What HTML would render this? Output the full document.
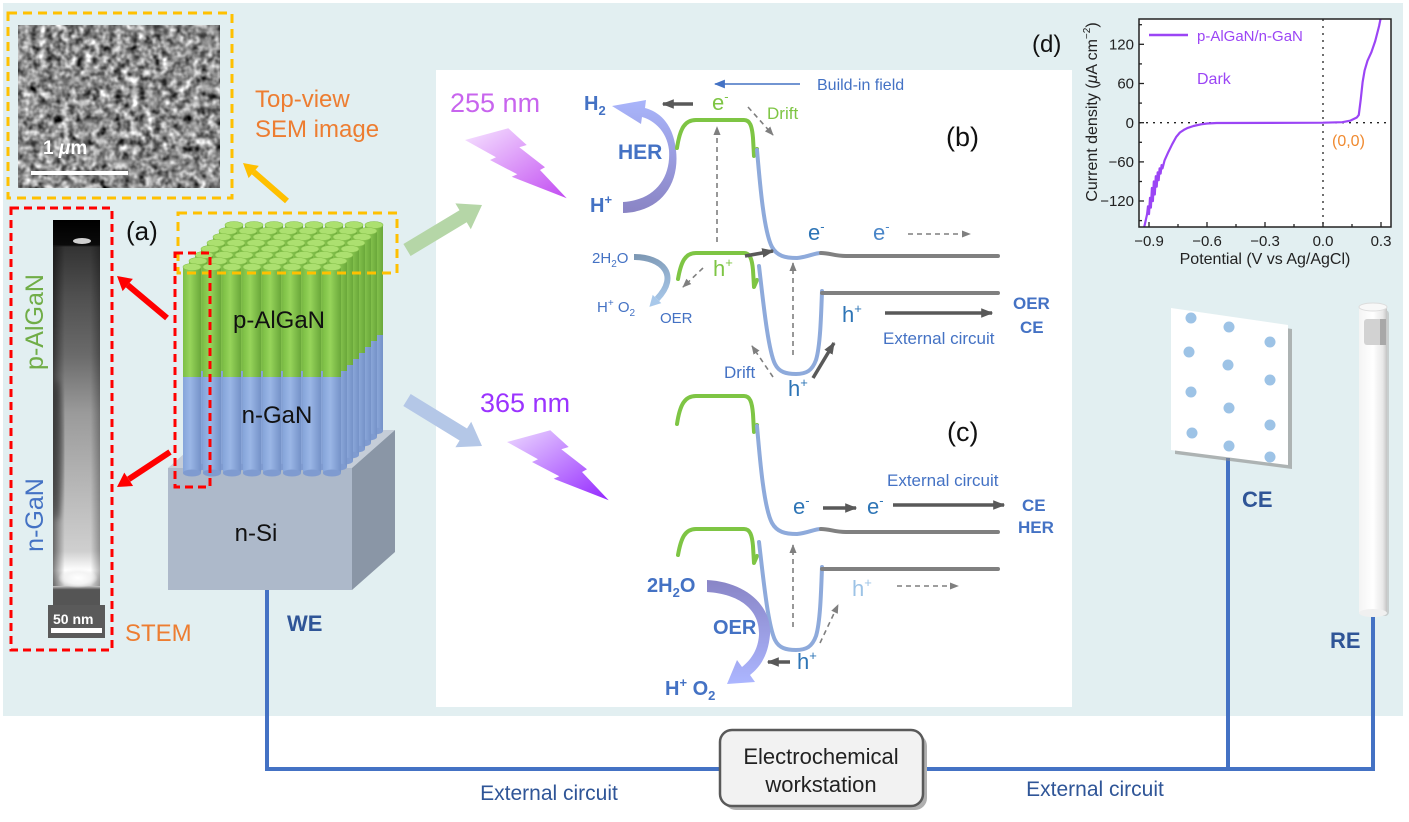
<!DOCTYPE html>
<html><head><meta charset="utf-8"><style>
html,body{margin:0;padding:0;background:#fff;overflow:hidden}
svg{display:block}
text{font-family:"Liberation Sans",Arial,sans-serif}
</style></head><body>
<svg width="1409" height="822" viewBox="0 0 1409 822" xmlns="http://www.w3.org/2000/svg" xmlns:xlink="http://www.w3.org/1999/xlink">
<defs>
<filter id="sem" x="0" y="0" width="1" height="1" color-interpolation-filters="sRGB">
<feTurbulence type="fractalNoise" baseFrequency="0.13" numOctaves="2" seed="7" result="t"/>
<feColorMatrix in="t" type="matrix" values="0.5 0.5 0 0 0  0.5 0.5 0 0 0  0.5 0.5 0 0 0  0 0 0 0 1"/>
<feComponentTransfer><feFuncR type="linear" slope="1.9" intercept="-0.4"/><feFuncG type="linear" slope="1.9" intercept="-0.4"/><feFuncB type="linear" slope="1.9" intercept="-0.4"/></feComponentTransfer>
</filter>
<filter id="blur2"><feGaussianBlur stdDeviation="3"/></filter>
<linearGradient id="stem" x1="0" y1="0" x2="0" y2="1">
<stop offset="0" stop-color="#000"/><stop offset="0.065" stop-color="#0a0a0a"/><stop offset="0.07" stop-color="#333"/>
<stop offset="0.2" stop-color="#505050"/><stop offset="0.35" stop-color="#6a6a6a"/><stop offset="0.5" stop-color="#9a9a9a"/>
<stop offset="0.7" stop-color="#b8b8b8"/><stop offset="0.86" stop-color="#cfcfcf"/><stop offset="0.91" stop-color="#fff"/>
<stop offset="0.95" stop-color="#d0d0d0"/><stop offset="0.96" stop-color="#555"/><stop offset="1" stop-color="#555"/>
</linearGradient>
<linearGradient id="stemh" x1="0" y1="0" x2="1" y2="0">
<stop offset="0" stop-color="#000" stop-opacity="0.5"/><stop offset="0.25" stop-color="#000" stop-opacity="0"/>
<stop offset="0.8" stop-color="#000" stop-opacity="0"/><stop offset="1" stop-color="#000" stop-opacity="0.3"/>
</linearGradient>
<linearGradient id="gg" x1="0" y1="0" x2="1" y2="0"><stop offset="0" stop-color="#7cbf45"/><stop offset="0.4" stop-color="#96d45a"/><stop offset="1" stop-color="#6aa83a"/></linearGradient>
<linearGradient id="bg" x1="0" y1="0" x2="1" y2="0"><stop offset="0" stop-color="#86a5da"/><stop offset="0.4" stop-color="#9ab6e6"/><stop offset="1" stop-color="#7592c8"/></linearGradient>
<g id="w"><rect x="0" y="0" width="18" height="110" fill="url(#gg)"/><rect x="0" y="110" width="18" height="96" fill="url(#bg)"/><ellipse cx="9" cy="206" rx="9" ry="3.5" fill="#7f9bd0"/><ellipse cx="9" cy="0" rx="9" ry="3.5" fill="#ace070" stroke="#86c04c" stroke-width="0.6"/></g>
<linearGradient id="bolt1" x1="0" y1="0" x2="1" y2="1"><stop offset="0" stop-color="#f6e4ff"/><stop offset="1" stop-color="#c24cf2"/></linearGradient>
<linearGradient id="bolt2" x1="0" y1="0" x2="1" y2="1"><stop offset="0" stop-color="#ecd8ff"/><stop offset="1" stop-color="#9428ff"/></linearGradient>
<linearGradient id="her" x1="0" y1="0" x2="0" y2="1"><stop offset="0" stop-color="#a9b5fb"/><stop offset="1" stop-color="#8a84c4"/></linearGradient>
<linearGradient id="oer" x1="0" y1="0" x2="0" y2="1"><stop offset="0" stop-color="#8985c6"/><stop offset="1" stop-color="#acb6ff"/></linearGradient>
<linearGradient id="oerb" gradientUnits="userSpaceOnUse" x1="634" y1="257" x2="650" y2="307"><stop offset="0" stop-color="#7d98b4"/><stop offset="1" stop-color="#a8c8ea"/></linearGradient>
<linearGradient id="re" x1="0" y1="0" x2="1" y2="0"><stop offset="0" stop-color="#f4f4f4"/><stop offset="0.5" stop-color="#fff"/><stop offset="0.85" stop-color="#e8e8e8"/><stop offset="1" stop-color="#c4c4c4"/></linearGradient>
<radialGradient id="spot" cx="0.5" cy="0.5" r="0.5"><stop offset="0" stop-color="#fff"/><stop offset="0.6" stop-color="#f4f4f4"/><stop offset="1" stop-color="#f4f4f4" stop-opacity="0"/></radialGradient>
<marker id="mk" viewBox="0 0 10 10" refX="9" refY="5" markerWidth="12" markerHeight="12" markerUnits="userSpaceOnUse" orient="auto"><path d="M0,1 L10,5 L0,9 z" fill="#595959"/></marker>
<marker id="md" viewBox="0 0 10 10" refX="9" refY="5" markerWidth="9" markerHeight="9" markerUnits="userSpaceOnUse" orient="auto"><path d="M0,1 L10,5 L0,9 z" fill="#7f7f7f"/></marker>
<marker id="mb" viewBox="0 0 10 10" refX="9" refY="5" markerWidth="11" markerHeight="11" markerUnits="userSpaceOnUse" orient="auto"><path d="M0,1 L10,5 L0,9 z" fill="#4472c4"/></marker>
<clipPath id="plot"><rect x="1139" y="19" width="252" height="208"/></clipPath>
<clipPath id="stemclip"><rect x="53" y="220" width="47" height="385"/></clipPath>
</defs>

<rect width="1409" height="822" fill="#fff"/>
<rect x="3" y="3" width="1400" height="713" fill="#e2eff1"/>
<rect x="436" y="70" width="636" height="637" fill="#fff"/>

<!-- SEM -->
<rect x="18" y="25" width="202" height="163" fill="#808080" filter="url(#sem)"/>
<rect x="31" y="171" width="97" height="4" fill="#fff"/>
<text x="43" y="154" font-size="19" font-weight="bold" fill="#fff">1 <tspan font-style="italic">μ</tspan>m</text>
<rect x="8" y="13" width="224" height="185" fill="none" stroke="#ffc000" stroke-width="3" stroke-dasharray="9,6"/>
<text x="255" y="107" font-size="24" fill="#ed7d31">Top-view</text>
<text x="255" y="137" font-size="24" fill="#ed7d31">SEM image</text>
<line x1="287" y1="201" x2="253.7" y2="172" stroke="#ffc000" stroke-width="6"/>
<polygon points="243,163 258.8,165.9 248.6,178.1" fill="#ffc000"/>

<!-- STEM -->
<rect x="53" y="220" width="47" height="385" fill="url(#stem)"/>
<g clip-path="url(#stemclip)">
<rect x="53" y="246" width="47" height="340" fill="url(#stemh)"/>
<ellipse cx="57" cy="450" rx="6" ry="70" fill="#000" opacity="0.35" filter="url(#blur2)"/>
<ellipse cx="78" cy="578" rx="20" ry="10" fill="url(#spot)"/>
</g>
<ellipse cx="82" cy="241" rx="9" ry="3" fill="#cfcfcf"/>
<rect x="48" y="605" width="57" height="33" fill="#5a5a5a"/>
<text x="53" y="624" font-size="14" font-weight="bold" fill="#fff">50 nm</text>
<rect x="51" y="628" width="51" height="5" fill="#fff"/>
<rect x="11" y="208" width="101" height="442" fill="none" stroke="#ff0000" stroke-width="3" stroke-dasharray="8,5"/>
<text transform="translate(43,322) rotate(-90)" text-anchor="middle" font-size="25" fill="#70ad47">p-AlGaN</text>
<text transform="translate(43,515) rotate(-90)" text-anchor="middle" font-size="25" fill="#4472c4">n-GaN</text>
<text x="125" y="641" font-size="24" fill="#ed7d31">STEM</text>
<text x="126" y="240" font-size="26" fill="#111">(a)</text>
<line x1="167" y1="318" x2="127.7" y2="285" stroke="#ff0000" stroke-width="6"/>
<polygon points="117,276 132.9,278.9 122.6,291.1" fill="#ff0000"/>
<line x1="170" y1="452" x2="128.7" y2="479.3" stroke="#ff0000" stroke-width="6"/>
<polygon points="117,487 124.3,472.6 133.1,486" fill="#ff0000"/>

<!-- substrate -->
<polygon points="168,468 352,468 395,430 211,430" fill="#c5cdd8"/>
<polygon points="352,468 395,430 395,552 352,590" fill="#8a96a6"/>
<rect x="168" y="468" width="184" height="122" fill="#adb9ca"/>
<text x="256" y="541" font-size="24" fill="#111" text-anchor="middle">n-Si</text>

<!-- nanowires -->
<g>
<use href="#w" x="225" y="225"/><use href="#w" x="245" y="225"/><use href="#w" x="265" y="225"/><use href="#w" x="285" y="225"/><use href="#w" x="305" y="225"/><use href="#w" x="325" y="225"/><use href="#w" x="345" y="225"/><use href="#w" x="365" y="225"/>
<use href="#w" x="219" y="231"/><use href="#w" x="239" y="231"/><use href="#w" x="259" y="231"/><use href="#w" x="279" y="231"/><use href="#w" x="299" y="231"/><use href="#w" x="319" y="231"/><use href="#w" x="339" y="231"/><use href="#w" x="359" y="231"/>
<use href="#w" x="213" y="237"/><use href="#w" x="233" y="237"/><use href="#w" x="253" y="237"/><use href="#w" x="273" y="237"/><use href="#w" x="293" y="237"/><use href="#w" x="313" y="237"/><use href="#w" x="333" y="237"/><use href="#w" x="353" y="237"/>
<use href="#w" x="207" y="243"/><use href="#w" x="227" y="243"/><use href="#w" x="247" y="243"/><use href="#w" x="267" y="243"/><use href="#w" x="287" y="243"/><use href="#w" x="307" y="243"/><use href="#w" x="327" y="243"/><use href="#w" x="347" y="243"/>
<use href="#w" x="201" y="249"/><use href="#w" x="221" y="249"/><use href="#w" x="241" y="249"/><use href="#w" x="261" y="249"/><use href="#w" x="281" y="249"/><use href="#w" x="301" y="249"/><use href="#w" x="321" y="249"/><use href="#w" x="341" y="249"/>
<use href="#w" x="195" y="255"/><use href="#w" x="215" y="255"/><use href="#w" x="235" y="255"/><use href="#w" x="255" y="255"/><use href="#w" x="275" y="255"/><use href="#w" x="295" y="255"/><use href="#w" x="315" y="255"/><use href="#w" x="335" y="255"/>
<use href="#w" x="189" y="261"/><use href="#w" x="209" y="261"/><use href="#w" x="229" y="261"/><use href="#w" x="249" y="261"/><use href="#w" x="269" y="261"/><use href="#w" x="289" y="261"/><use href="#w" x="309" y="261"/><use href="#w" x="329" y="261"/>
<use href="#w" x="183" y="267"/><use href="#w" x="203" y="267"/><use href="#w" x="223" y="267"/><use href="#w" x="243" y="267"/><use href="#w" x="263" y="267"/><use href="#w" x="283" y="267"/><use href="#w" x="303" y="267"/><use href="#w" x="323" y="267"/>
</g>
<text x="279" y="328" font-size="24" fill="#111" text-anchor="middle">p-AlGaN</text>
<text x="277" y="423" font-size="24" fill="#111" text-anchor="middle">n-GaN</text>
<rect x="178" y="213" width="219" height="60" fill="none" stroke="#ffc000" stroke-width="3" stroke-dasharray="9,6"/>
<rect x="175" y="253" width="35" height="234" fill="none" stroke="#ff0000" stroke-width="3" stroke-dasharray="8,5"/>

<!-- big arrows -->
<polygon points="410.6,256 466.7,222.3 470.8,229.2 482,205 455.4,203.4 459.5,210.3 403.4,244" fill="#b5d6a7"/>
<polygon points="403.3,406 459.6,440.5 455.4,447.3 482,446 471.2,421.7 467,428.5 410.7,394" fill="#b4c7e7"/>

<!-- circuit -->
<path d="M267,590 V769 H1373 V616" fill="none" stroke="#4472c4" stroke-width="4"/>
<path d="M1228,458 V769" fill="none" stroke="#4472c4" stroke-width="4"/>
<text x="287" y="631" font-size="22" font-weight="bold" fill="#2f5597">WE</text>
<rect x="724" y="734" width="203" height="76" rx="12" fill="#b0b0b0"/>
<rect x="720" y="730" width="203" height="76" rx="12" fill="#f2f2f2" stroke="#595959" stroke-width="2.5"/>
<text x="821" y="764" font-size="22" fill="#222" text-anchor="middle">Electrochemical</text>
<text x="821" y="792" font-size="22" fill="#222" text-anchor="middle">workstation</text>
<text x="549" y="800" font-size="21" fill="#2f5597" text-anchor="middle">External circuit</text>
<text x="1095" y="796" font-size="21" fill="#2f5597" text-anchor="middle">External circuit</text>

<!-- CE plate -->
<polygon points="1175,312 1292,329 1292,469 1175,454" fill="#8a8a8a" opacity="0.6"/>
<polygon points="1171,308 1288,325 1288,465 1171,450" fill="#fff"/>
<g fill="#9dc3e6">
<circle cx="1191" cy="318" r="5.5"/><circle cx="1229" cy="327" r="5.5"/><circle cx="1270" cy="342" r="5.5"/>
<circle cx="1189" cy="352" r="5.5"/><circle cx="1228" cy="365" r="5.5"/><circle cx="1270" cy="380" r="5.5"/>
<circle cx="1191" cy="392" r="5.5"/><circle cx="1229" cy="408" r="5.5"/><circle cx="1270" cy="425" r="5.5"/>
<circle cx="1192" cy="433" r="5.5"/><circle cx="1229" cy="446" r="5.5"/><circle cx="1270" cy="457" r="5.5"/>
</g>
<text x="1242" y="507" font-size="22" font-weight="bold" fill="#2f5597">CE</text>
<!-- RE tube -->
<rect x="1361" y="310" width="28" height="306" rx="4" fill="#b8b8b8" opacity="0.6"/>
<rect x="1359" y="307" width="28" height="306" fill="url(#re)"/>
<ellipse cx="1373" cy="613" rx="14" ry="4" fill="#f0f0f0"/>
<ellipse cx="1373" cy="307" rx="14" ry="4" fill="#f8f8f8" stroke="#dcdcdc" stroke-width="1"/>
<rect x="1364" y="319" width="22" height="26" rx="3" fill="#d2d2d2"/>
<rect x="1380" y="319" width="6" height="26" fill="#a8a8a8"/>
<text x="1330" y="648" font-size="22" font-weight="bold" fill="#2f5597">RE</text>

<!-- lightning -->
<polygon points="465,140 508.3,128.3 526.7,145 519.3,147.3 545,167.3 540,170 566.7,198.3 511.7,176.7 517.3,174.3 490,160 496,157.3" fill="url(#bolt1)"/>
<polygon transform="translate(42,302)" points="465,140 508.3,128.3 526.7,145 519.3,147.3 545,167.3 540,170 566.7,198.3 511.7,176.7 517.3,174.3 490,160 496,157.3" fill="url(#bolt2)"/>
<text x="450" y="112" font-size="27" fill="#c865ee">255 nm</text>
<text x="480" y="412" font-size="27" fill="#9b33ff">365 nm</text>

<!-- (b) -->
<path d="M623,213 C660,212 680,185 676,150 C673,124 660,112 645,108 L646,100 L612,106 L641,124 L642,117 C656,121 667,133 669,150 C671,178 655,200 623,202 Z" fill="url(#her)"/>
<text x="584" y="110" font-size="20" font-weight="bold" fill="#4472c4">H<tspan font-size="13" dy="5">2</tspan></text>
<text x="618" y="159" font-size="21" font-weight="bold" fill="#4472c4">HER</text>
<text x="590" y="212" font-size="20" font-weight="bold" fill="#4472c4">H<tspan font-size="13" dy="-8">+</tspan></text>
<line x1="693" y1="104" x2="663" y2="104" stroke="#595959" stroke-width="3.5" marker-end="url(#mk)"/>
<text x="712" y="110" font-size="22" fill="#7ec544">e<tspan font-size="13" dy="-9">-</tspan></text>
<line x1="800" y1="84" x2="715" y2="84" stroke="#4472c4" stroke-width="1.5" marker-end="url(#mb)"/>
<text x="817" y="90" font-size="16" fill="#4472c4">Build-in field</text>
<text x="767" y="119" font-size="17" fill="#7ec544">Drift</text>
<text x="946" y="146" font-size="27" fill="#111">(b)</text>

<g fill="none" stroke-width="4" stroke-linecap="round" stroke-linejoin="round">
<path d="M677,148 C680,128 685,120 696,120 L744,120 C750,120 752,126 753,138 L754,156 L757,149" stroke="#7ec544"/>
<path d="M757,150 C760,185 764,232 772,247 C777,256 785,258 797,258 C808,257 814,253 821,253" stroke="#8eaadb"/>
<path d="M821,253 C830,253 834,256 846,256 L998,256" stroke="#808080"/>
<path d="M678,279 C681,262 685,253 696,253 L744,253 C750,253 752,259 753,270 L754,287 L757,280" stroke="#7ec544"/>
<path d="M759,266 C763,300 768,350 775,364 C779,372 786,374 796,374 C806,374 812,371 816,360 C820,347 821,320 822,291" stroke="#8eaadb"/>
<path d="M822,293 L998,293" stroke="#808080"/>
<g transform="translate(0,276)">
<path d="M677,148 C680,128 685,120 696,120 L744,120 C750,120 752,126 753,138 L754,156 L757,149" stroke="#7ec544"/>
<path d="M757,150 C760,185 764,232 772,247 C777,256 785,258 797,258 C808,257 814,253 821,253" stroke="#8eaadb"/>
<path d="M821,253 C830,253 834,256 846,256 L998,256" stroke="#808080"/>
<path d="M678,279 C681,262 685,253 696,253 L744,253 C750,253 752,259 753,270 L754,287 L757,280" stroke="#7ec544"/>
<path d="M759,266 C763,300 768,350 775,364 C779,372 786,374 796,374 C806,374 812,371 816,360 C820,347 821,320 822,291" stroke="#8eaadb"/>
<path d="M822,293 L998,293" stroke="#808080"/>
</g>
</g>

<!-- dashed arrows -->
<g stroke="#7f7f7f" stroke-width="1.6" stroke-dasharray="5,4" fill="none">
<line x1="717" y1="242" x2="717" y2="127" marker-end="url(#md)"/>
<line x1="748" y1="107" x2="773" y2="135" marker-end="url(#md)"/>
<line x1="908" y1="234" x2="970" y2="234" marker-end="url(#md)"/>
<line x1="703" y1="268" x2="683" y2="287" marker-end="url(#md)"/>
<line x1="793" y1="355" x2="793" y2="263" marker-end="url(#md)"/>
<line x1="773" y1="377" x2="752" y2="346" marker-end="url(#md)"/>
<line x1="793" y1="627" x2="793" y2="545" marker-end="url(#md)"/>
<line x1="820" y1="643" x2="838" y2="605" marker-end="url(#md)"/>
<line x1="897" y1="586" x2="958" y2="586" marker-end="url(#md)"/>
</g>
<!-- solid arrows -->
<g stroke="#595959" stroke-width="3.5" fill="none">
<line x1="745" y1="256" x2="773" y2="251" marker-end="url(#mk)"/>
<line x1="885" y1="313" x2="992" y2="313" marker-end="url(#mk)"/>
<line x1="813" y1="378" x2="834" y2="343" marker-end="url(#mk)"/>
<line x1="823" y1="508" x2="856" y2="508" marker-end="url(#mk)"/>
<line x1="893" y1="505" x2="1004" y2="505" marker-end="url(#mk)"/>
<line x1="790" y1="662" x2="768" y2="662" marker-end="url(#mk)"/>
</g>

<!-- small OER arrow (b) -->
<path d="M634,257 C662,257 680,275 657,299" fill="none" stroke="url(#oerb)" stroke-width="6"/>
<polygon points="661.3,303.1 652.7,294.9 649.4,306.9" fill="#a8c8ea"/>
<text x="592" y="263" font-size="15" fill="#4472c4">2H<tspan font-size="10" dy="4">2</tspan><tspan dy="-4">O</tspan></text>
<text x="597" y="312" font-size="15" fill="#4472c4">H<tspan font-size="10" dy="-6">+</tspan><tspan dy="6"> O</tspan><tspan font-size="10" dy="4">2</tspan></text>
<text x="660" y="323" font-size="15" fill="#4472c4">OER</text>
<text x="713" y="276" font-size="22" fill="#7ec544">h<tspan font-size="13" dy="-9">+</tspan></text>
<text x="808" y="240" font-size="22" fill="#2e75b6">e<tspan font-size="13" dy="-9">-</tspan></text>
<text x="873" y="240" font-size="22" fill="#4a86c8">e<tspan font-size="13" dy="-9">-</tspan></text>
<text x="842" y="322" font-size="22" fill="#2e75b6">h<tspan font-size="13" dy="-9">+</tspan></text>
<text x="883" y="344" font-size="17" fill="#4472c4">External circuit</text>
<text x="1013" y="309" font-size="17" font-weight="bold" fill="#4472c4">OER</text>
<text x="1020" y="333" font-size="17" font-weight="bold" fill="#4472c4">CE</text>
<text x="724" y="378" font-size="17" fill="#4472c4">Drift</text>
<text x="788" y="396" font-size="22" fill="#2e75b6">h<tspan font-size="13" dy="-9">+</tspan></text>

<!-- (c) -->
<text x="947" y="441" font-size="27" fill="#111">(c)</text>
<text x="887" y="486" font-size="17" fill="#4472c4">External circuit</text>
<text x="793" y="514" font-size="22" fill="#2e75b6">e<tspan font-size="13" dy="-9">-</tspan></text>
<text x="867" y="514" font-size="22" fill="#2e75b6">e<tspan font-size="13" dy="-9">-</tspan></text>
<text x="1022" y="511" font-size="17" font-weight="bold" fill="#4472c4">CE</text>
<text x="1018" y="533" font-size="17" font-weight="bold" fill="#4472c4">HER</text>
<text x="852" y="596" font-size="22" fill="#9dc3e6">h<tspan font-size="13" dy="-9">+</tspan></text>
<text x="797" y="669" font-size="22" fill="#2e75b6">h<tspan font-size="13" dy="-9">+</tspan></text>
<path d="M707,580 C745,582 772,605 770,635 C768,655 761,666 750,675 L755,682 L727,684 L737,660 L742,667 C752,659 758,649 759,635 C760,610 740,594 707,592 Z" fill="url(#oer)"/>
<text x="647" y="592" font-size="20" font-weight="bold" fill="#4472c4">2H<tspan font-size="13" dy="5">2</tspan><tspan dy="-5">O</tspan></text>
<text x="713" y="634" font-size="20" font-weight="bold" fill="#4472c4">OER</text>
<text x="665" y="695" font-size="20" font-weight="bold" fill="#4472c4">H<tspan font-size="13" dy="-8">+</tspan><tspan dy="8"> O</tspan><tspan font-size="13" dy="5">2</tspan></text>

<!-- (d) chart -->
<text x="1032" y="52" font-size="24" fill="#111">(d)</text>
<rect x="1139" y="19" width="252" height="208" fill="#fff"/>
<g stroke="#222" stroke-width="1.3" stroke-dasharray="2,5">
<line x1="1139" y1="122.7" x2="1391" y2="122.7"/>
<line x1="1323" y1="19" x2="1323" y2="227"/>
</g>
<path clip-path="url(#plot)" fill="none" stroke="#9b45f5" stroke-width="2.2" stroke-linejoin="round" d="M1144.2,227.2 L1147.1,214.1 L1148,206.3 L1149,214.1 L1150,197.8 L1150.9,207.6 L1151.9,188 L1152.9,201.1 L1153.8,181.5 L1154.8,194.5 L1155.8,176.2 L1156.7,186.7 L1157.7,172.3 L1158.7,180.2 L1159.6,168.4 L1160.6,173.6 L1161.6,165.1 L1162.5,168.4 L1164.5,160.6 L1168.3,152.1 L1172.2,144.2 L1176.1,137.1 L1179.9,132.5 L1183.8,129.9 L1187.7,127.9 L1193.5,126 L1201.2,124.3 L1207,123.5 L1216.7,123 L1323,122.7 L1342.3,122.2 L1350.1,120.7 L1356.8,117.5 L1358.8,114.9 L1360.7,99.8 L1362.6,82.2 L1364.6,70.5 L1367.5,60.7 L1371.4,52.2 L1375.2,41.1 L1379.1,26 L1382,11.7"/>
<rect x="1139" y="19" width="252" height="208" fill="none" stroke="#222" stroke-width="1.5"/>
<g stroke="#222" stroke-width="1.3">
<line x1="1139" y1="44.3" x2="1144" y2="44.3"/><line x1="1139" y1="83.5" x2="1144" y2="83.5"/><line x1="1139" y1="122.7" x2="1144" y2="122.7"/><line x1="1139" y1="161.9" x2="1144" y2="161.9"/><line x1="1139" y1="201" x2="1144" y2="201"/>
<line x1="1139" y1="24.7" x2="1142" y2="24.7"/><line x1="1139" y1="63.9" x2="1142" y2="63.9"/><line x1="1139" y1="103.1" x2="1142" y2="103.1"/><line x1="1139" y1="142.3" x2="1142" y2="142.3"/><line x1="1139" y1="181.5" x2="1142" y2="181.5"/><line x1="1139" y1="220.6" x2="1142" y2="220.6"/>
<line x1="1149" y1="227" x2="1149" y2="222"/><line x1="1207" y1="227" x2="1207" y2="222"/><line x1="1265" y1="227" x2="1265" y2="222"/><line x1="1323" y1="227" x2="1323" y2="222"/><line x1="1381" y1="227" x2="1381" y2="222"/>
<line x1="1178" y1="227" x2="1178" y2="224"/><line x1="1236" y1="227" x2="1236" y2="224"/><line x1="1294" y1="227" x2="1294" y2="224"/><line x1="1352" y1="227" x2="1352" y2="224"/>
</g>
<g font-size="15" fill="#222" text-anchor="end">
<text x="1134" y="49.5">120</text><text x="1134" y="88.7">60</text><text x="1134" y="127.9">0</text><text x="1134" y="167.1">−60</text><text x="1134" y="206.2">−120</text>
</g>
<g font-size="15" fill="#222" text-anchor="middle">
<text x="1149" y="246">−0.9</text><text x="1207" y="246">−0.6</text><text x="1265" y="246">−0.3</text><text x="1323" y="246">0.0</text><text x="1381" y="246">0.3</text>
</g>
<text x="1265" y="264" font-size="16" fill="#222" text-anchor="middle">Potential (V vs Ag/AgCl)</text>
<text transform="translate(1097,112) rotate(-90)" font-size="16" fill="#222" text-anchor="middle">Current density (<tspan font-style="italic">μ</tspan>A cm<tspan font-size="10" dy="-7">−2</tspan><tspan dy="7">)</tspan></text>
<line x1="1149" y1="35" x2="1188" y2="35" stroke="#9b45f5" stroke-width="2.5"/>
<text x="1197" y="41" font-size="15" fill="#9b45f5">p-AlGaN/n-GaN</text>
<text x="1197" y="84" font-size="16" fill="#9b45f5">Dark</text>
<text x="1332" y="146" font-size="16" fill="#f08a30">(0,0)</text>
</svg>
</body></html>
